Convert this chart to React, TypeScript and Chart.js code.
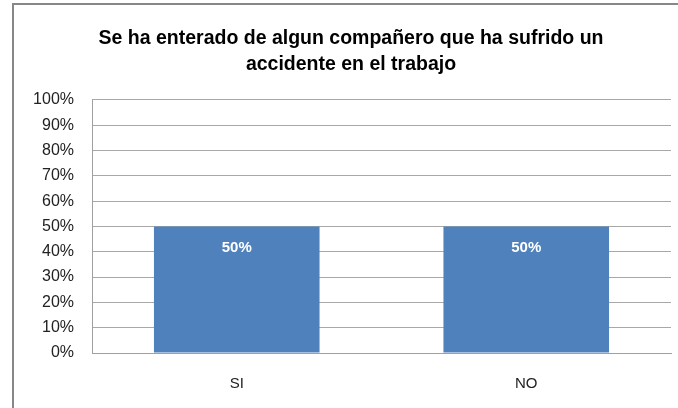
import React, { useEffect, useRef } from "react";
import { Chart, registerables } from "chart.js";

Chart.register(...registerables);

const titleLines = ["Se ha enterado de algun compañero que ha sufrido un", "accidente en el trabajo"];
const categories = ["SI", "NO"];
const values = [50, 50];
const valueLabels = ["50%", "50%"];

const frameAndLabels = {
  id: "frameAndLabels",
  beforeDraw(chart: any) {
    const ctx = chart.ctx;
    ctx.save();
    ctx.fillStyle = "#ffffff";
    ctx.fillRect(0, 0, chart.width, chart.height);
    ctx.strokeStyle = "#878787";
    ctx.lineWidth = 2;
    ctx.beginPath();
    ctx.moveTo(13, chart.height + 5);
    ctx.lineTo(13, 4);
    ctx.lineTo(chart.width + 5, 4);
    ctx.stroke();
    ctx.restore();
  },
  afterDatasetsDraw(chart: any) {
    const ctx = chart.ctx;
    const meta = chart.getDatasetMeta(0);
    ctx.save();
    ctx.fillStyle = "#ffffff";
    ctx.font = "bold 15px 'Liberation Sans'";
    ctx.textAlign = "center";
    ctx.textBaseline = "middle";
    meta.data.forEach((bar: any, i: number) => {
      ctx.fillText(valueLabels[i], bar.x, bar.y + 21);
    });
    ctx.restore();
  },
};

export default function App() {
  const ref = useRef<HTMLCanvasElement>(null);
  useEffect(() => {
    if (!ref.current) return;
    const chart = new Chart(ref.current, {
      type: "bar",
      data: {
        labels: categories,
        datasets: [
          {
            data: values,
            backgroundColor: "#4F81BD",
            borderWidth: 0,
            categoryPercentage: 1,
            barPercentage: 0.572,
          },
        ],
      },
      options: {
        responsive: false,
        animation: false,
        devicePixelRatio: 1,
        layout: { padding: { left: 31, right: 7, top: 0, bottom: 0 } },
        plugins: {
          legend: { display: false },
          tooltip: { enabled: false },
          title: {
            display: true,
            text: titleLines,
            color: "#000000",
            font: { family: "'Liberation Sans'", size: 19.5, weight: "bold", lineHeight: 1.33 },
            padding: { top: 26, bottom: 22 },
          },
        },
        scales: {
          x: {
            grid: { display: false, drawTicks: false },
            border: { display: true, color: "#a0a0a0", width: 1 },
            ticks: { color: "#222222", font: { family: "'Liberation Sans'", size: 15 }, padding: 22 },
            afterFit(scale: any) {
              scale.height = 55;
            },
          },
          y: {
            min: 0,
            max: 100,
            grid: { color: "#a8a8a8", drawTicks: false },
            border: { display: true, color: "#a0a0a0", width: 1 },
            ticks: {
              stepSize: 10,
              color: "#222222",
              padding: 18,
              font: { family: "'Liberation Sans'", size: 16 },
              callback: (v: any) => v + "%",
            },
            afterFit(scale: any) {
              scale.width = 61;
            },
          },
        },
      },
      plugins: [frameAndLabels],
    });
    return () => chart.destroy();
  }, []);
  return (
    <div style={{ position: "absolute", left: 0, top: 0, width: 678, height: 408 }}>
      <canvas ref={ref} width={678} height={408} />
    </div>
  );
}
